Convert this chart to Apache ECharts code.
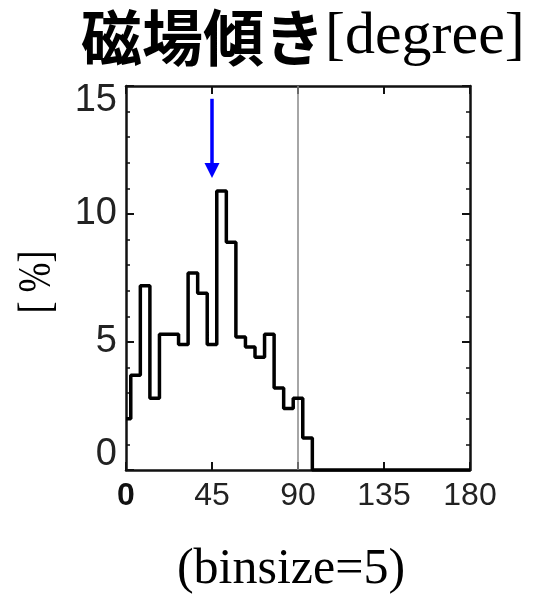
<!DOCTYPE html>
<html>
<head>
<meta charset="utf-8">
<script src="https://cdn.jsdelivr.net/npm/echarts@6/dist/echarts.min.js"></script>
<style>
html,body{margin:0;padding:0;background:#fff;}
#chart{width:534px;height:594px;}
</style>
</head>
<body>
<div id="chart"></div>
<script>
// ---- data ----
const binCenters = [0,5,10,15,20,25,30,35,40,45,50,55,60,65,70,75,80,85,90,95,
  100,105,110,115,120,125,130,135,140,145,150,155,160,165,170,175,180];
const percent = [2.0,3.7,7.2,2.8,5.3,5.3,4.9,7.7,6.9,4.9,10.9,8.9,5.2,4.8,4.4,5.3,3.2,2.4,2.8,1.25,
  0,0,0,0,0,0,0,0,0,0,0,0,0,0,0,0,0];
const xTicks = [0,45,90,135,180];
const yTicks = [0,5,10,15];
const refLineX = 90;
const arrowX = 45, arrowFrom = 14.5, arrowTo = 11.7;
const titleMain = '磁場傾き';
const titleUnit = '[degree]';
const yName = '[ %]';
const footNote = '(binsize=5)';

const histData = binCenters.map((c,i)=>[c, percent[i]]);

const chart = echarts.init(document.getElementById('chart'), null, {renderer:'canvas'});
const axisCol = '#111';
const labelFont = 'Liberation Sans';
const serif = 'Liberation Serif';

function xAxisCfg(pos, showLabel){
  return {
    type:'value', position:pos, min:xTicks[0], max:xTicks[xTicks.length-1],
    interval:xTicks[1]-xTicks[0],
    axisLine:{show:true, onZero:false, lineStyle:{color:axisCol, width:2.5}},
    axisTick:{show:true, inside:true, length:8, lineStyle:{color:axisCol, width:2}},
    splitLine:{show:false},
    axisLabel:{show:showLabel, fontSize:32, fontFamily:labelFont, fontWeight:'normal',
      color:'#222', margin:10, hideOverlap:false,
      formatter:v => v===0 ? '{b|0}' : '{n|'+v+'}',
      rich:{
        b:{fontSize:32, fontWeight:'bold', fontFamily:labelFont, color:'#111'},
        n:{fontSize:32, fontWeight:'normal', fontFamily:labelFont, color:'#222'}
      }}
  };
}
function yAxisCfg(pos, showLabel){
  return {
    type:'value', position:pos, min:yTicks[0], max:yTicks[yTicks.length-1],
    interval:yTicks[1]-yTicks[0],
    axisLine:{show:true, onZero:false, lineStyle:{color:axisCol, width:2.5}},
    axisTick:{show:true, inside:true, length:8, lineStyle:{color:axisCol, width:2}},
    minorTick:{show:true, splitNumber:5, length:4, lineStyle:{color:axisCol, width:1.5}},
    splitLine:{show:false},
    axisLabel:{show:showLabel, fontSize:38, lineHeight:30, fontFamily:labelFont, color:'#222', margin:9,
      verticalAlignMinLabel:'bottom', verticalAlignMaxLabel:'top'}
  };
}

const option = {
  backgroundColor:'#fff',
  animation:false,
  textStyle:{fontFamily:labelFont},
  title:{
    text:'{a|'+titleMain+'}{b|'+titleUnit+'}',
    left:76, top:2,
    textStyle:{rich:{
      a:{fontSize:61, fontWeight:'bold', fontFamily:'Noto Sans CJK JP', color:'#000'},
      b:{fontSize:60, fontWeight:'normal', fontFamily:serif, color:'#000'}
    }}
  },
  grid:{left:126, right:64, top:86, bottom:124, containLabel:false},
  xAxis:[xAxisCfg('bottom', true), xAxisCfg('top', false)],
  yAxis:[yAxisCfg('left', true), yAxisCfg('right', false)],
  graphic:[
    {type:'text', x:38, y:282, rotation:Math.PI/2, scaleX:0.78,
      style:{text:yName, font:'46px "Liberation Serif"', fill:'#000', textAlign:'center', textVerticalAlign:'middle'}},
    {type:'text', x:291, y:570,
      style:{text:footNote, font:'50px "Liberation Serif"', fill:'#000', textAlign:'center', textVerticalAlign:'middle'}}
  ],
  series:[
    {
      type:'line', step:'middle', data:histData, showSymbol:false, symbol:'none',
      lineStyle:{color:'#000', width:3.5}, z:3,
      markLine:{
        silent:true, symbol:['none','none'], z:2,
        label:{show:false},
        lineStyle:{color:'#888', width:1.5, type:'solid'},
        data:[{xAxis:refLineX}]
      }
    },
    {
      type:'line', data:[], symbol:'none',
      markLine:{
        silent:true, symbol:['none','triangle'], symbolSize:15,
        label:{show:false},
        itemStyle:{color:'#0000ff'},
        lineStyle:{color:'#0000ff', width:3.5, type:'solid'},
        data:[[{coord:[arrowX, arrowFrom]},{coord:[arrowX, arrowTo]}]]
      }
    }
  ]
};
chart.setOption(option);
</script>
</body>
</html>
